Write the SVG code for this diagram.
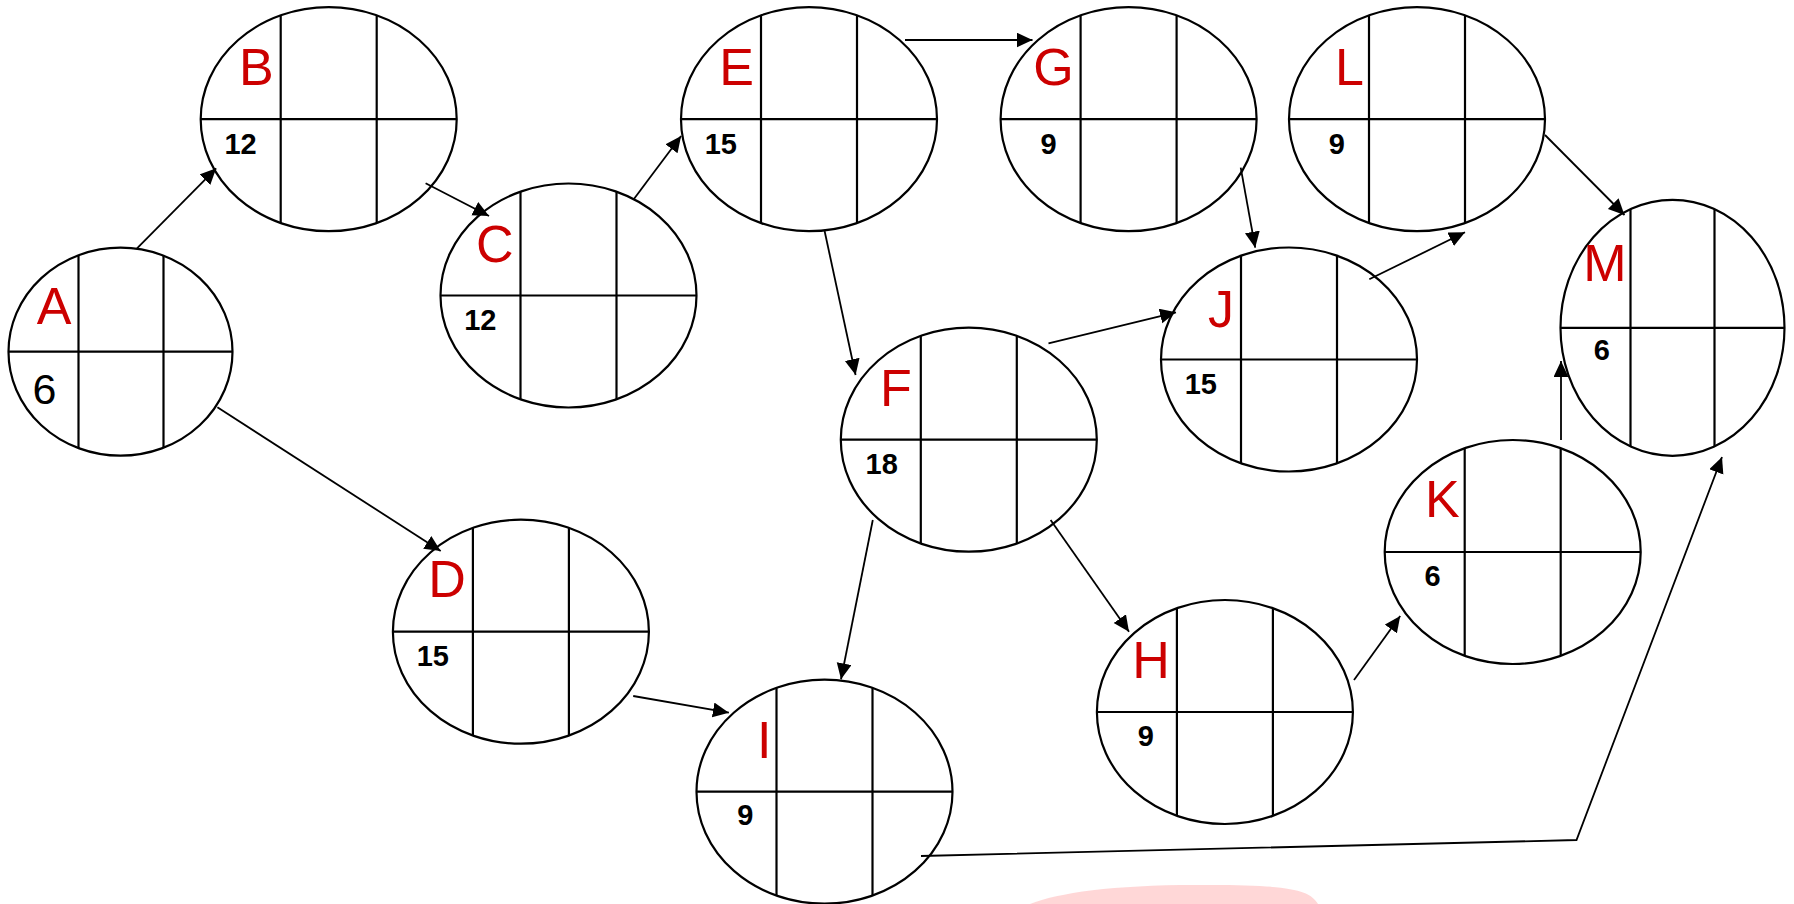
<svg xmlns="http://www.w3.org/2000/svg" xmlns:xlink="http://www.w3.org/1999/xlink" width="1794" height="904" viewBox="0 0 1794 904">
<style>
.sh{fill:#fff;stroke:#000;stroke-width:2.2}
.ln{stroke:#000;stroke-width:2.2;fill:none}
.cn{stroke:#000;stroke-width:1.8;fill:none}
.lbl{font-family:"Liberation Sans",Arial,sans-serif;font-size:52px;fill:#cc0000;text-anchor:end}
.num{font-family:"Liberation Sans",Arial,sans-serif;font-size:29px;font-weight:bold;fill:#000;text-anchor:end}
.big{font-family:"Liberation Sans",Arial,sans-serif;font-size:43px;fill:#000;text-anchor:end}
</style>
<defs>
<marker id="ah" markerUnits="userSpaceOnUse" markerWidth="17" markerHeight="16" refX="16" refY="7.5" orient="auto">
<path d="M0,0 L16,7.5 L0,15 Z" fill="#000"/>
</marker>
<g id="cell">
<ellipse class="sh" cx="0" cy="0" rx="128" ry="112"/>
<line class="ln" x1="-128" y1="0" x2="128" y2="0"/>
<line class="ln" x1="-48" y1="-103.8" x2="-48" y2="103.8"/>
<line class="ln" x1="48" y1="-103.8" x2="48" y2="103.8"/>
</g>
<g id="cellA">
<ellipse class="sh" cx="0" cy="0" rx="112" ry="104"/>
<line class="ln" x1="-112" y1="0" x2="112" y2="0"/>
<line class="ln" x1="-42" y1="-96.4" x2="-42" y2="96.4"/>
<line class="ln" x1="43" y1="-96" x2="43" y2="96"/>
</g>
<g id="cellM">
<ellipse class="sh" cx="0" cy="0" rx="112" ry="128"/>
<line class="ln" x1="-112" y1="0" x2="112" y2="0"/>
<line class="ln" x1="-42" y1="-118.7" x2="-42" y2="118.7"/>
<line class="ln" x1="42" y1="-118.7" x2="42" y2="118.7"/>
</g>
</defs>
<rect x="0" y="0" width="1794" height="904" fill="#fff"/>
<path d="M1030,904 C1060,892 1120,884 1210,885 C1290,885 1310,890 1318,904 Z" fill="#ffcdcd" opacity="0.8"/>
<g id="A" transform="translate(120.5,351.7)"><use xlink:href="#cellA"/><text class="lbl" x="-49" y="-28">A</text><text class="big" x="-64" y="52">6</text></g>
<g id="B" transform="translate(328.7,119.2)"><use xlink:href="#cell"/><text class="lbl" x="-55" y="-34">B</text><text class="num" x="-72" y="35">12</text></g>
<g id="C" transform="translate(568.5,295.5)"><use xlink:href="#cell"/><text class="lbl" x="-55" y="-34">C</text><text class="num" x="-72" y="34">12</text></g>
<g id="D" transform="translate(520.9,631.7)"><use xlink:href="#cell"/><text class="lbl" x="-55" y="-35">D</text><text class="num" x="-72" y="34">15</text></g>
<g id="E" transform="translate(809,119.2)"><use xlink:href="#cell"/><text class="lbl" x="-55" y="-34">E</text><text class="num" x="-72" y="35">15</text></g>
<g id="F" transform="translate(968.8,439.7)"><use xlink:href="#cell"/><text class="lbl" x="-57" y="-34">F</text><text class="num" x="-71" y="34">18</text></g>
<g id="G" transform="translate(1128.6,119.2)"><use xlink:href="#cell"/><text class="lbl" x="-55" y="-34">G</text><text class="num" x="-72" y="35">9</text></g>
<g id="H" transform="translate(1224.9,712)"><use xlink:href="#cell"/><text class="lbl" x="-55" y="-34">H</text><text class="num" x="-71" y="34">9</text></g>
<g id="I" transform="translate(824.5,791.7)"><use xlink:href="#cell"/><text class="lbl" x="-53" y="-34">I</text><text class="num" x="-71" y="33">9</text></g>
<g id="J" transform="translate(1289,359.5)"><use xlink:href="#cell"/><text class="lbl" x="-55" y="-33">J</text><text class="num" x="-72" y="34">15</text></g>
<g id="K" transform="translate(1512.7,552)"><use xlink:href="#cell"/><text class="lbl" x="-53" y="-35">K</text><text class="num" x="-72" y="34">6</text></g>
<g id="L" transform="translate(1417,119.2)"><use xlink:href="#cell"/><text class="lbl" x="-53" y="-34">L</text><text class="num" x="-72" y="35">9</text></g>
<g id="M" transform="translate(1672.5,327.8)"><use xlink:href="#cellM"/><text class="lbl" x="-46" y="-47">M</text><text class="num" x="-62.5" y="32">6</text></g>
<g id="connectors" marker-end="url(#ah)">
<line class="cn" x1="137" y1="248.3" x2="216.2" y2="168.3" marker-end="url(#ah)"/>
<line class="cn" x1="425.6" y1="183.3" x2="489" y2="216" marker-end="url(#ah)"/>
<line class="cn" x1="217.4" y1="407.3" x2="440.7" y2="551" marker-end="url(#ah)"/>
<line class="cn" x1="633.7" y1="199.3" x2="681.1" y2="136" marker-end="url(#ah)"/>
<line class="cn" x1="905" y1="40" x2="1032.5" y2="40" marker-end="url(#ah)"/>
<line class="cn" x1="824.6" y1="231" x2="855.6" y2="375" marker-end="url(#ah)"/>
<line class="cn" x1="1048.5" y1="343.3" x2="1176" y2="312.3" marker-end="url(#ah)"/>
<line class="cn" x1="1240.7" y1="167.7" x2="1255.2" y2="247.7" marker-end="url(#ah)"/>
<line class="cn" x1="1369.3" y1="279.3" x2="1465" y2="232.3" marker-end="url(#ah)"/>
<line class="cn" x1="1545" y1="135" x2="1624.5" y2="215" marker-end="url(#ah)"/>
<line class="cn" x1="872.8" y1="520" x2="841" y2="679.3" marker-end="url(#ah)"/>
<line class="cn" x1="633.2" y1="696" x2="728.9" y2="712.7" marker-end="url(#ah)"/>
<line class="cn" x1="1050.6" y1="520" x2="1129" y2="631.7" marker-end="url(#ah)"/>
<line class="cn" x1="1354" y1="680" x2="1400.2" y2="616" marker-end="url(#ah)"/>
<line class="cn" x1="1561" y1="440" x2="1561" y2="361" marker-end="url(#ah)"/>
<polyline class="cn" points="921,856 1576.5,840 1722,457" marker-end="url(#ah)"/>
</g>
</svg>
